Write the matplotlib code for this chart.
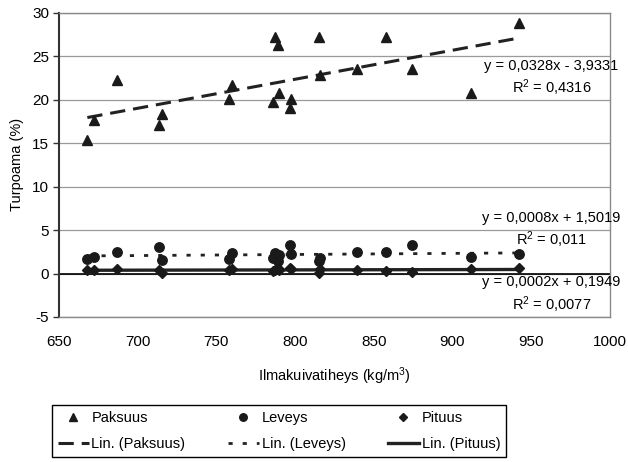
import matplotlib.pyplot as plt
import numpy as np

plt.rcParams['font.family'] = ['Liberation Sans', 'DejaVu Sans']
plt.rcParams['mathtext.fontset'] = 'custom'
plt.rcParams['mathtext.rm'] = 'Liberation Sans'
plt.rcParams['mathtext.it'] = 'Liberation Sans'
plt.rcParams['axes.unicode_minus'] = False

# Ilmakuivatiheys (kg/m3) per sample
tiheys = [668, 672, 687, 713.5, 715.5, 758, 760, 786, 787, 789, 789.5,
          797, 797.5, 815, 816, 839.5, 857.5, 874, 912, 942]
paksuus = [15.4, 17.7, 22.3, 17.1, 18.4, 20.1, 21.7, 19.8, 27.2, 26.3, 20.8,
           19.0, 20.1, 27.2, 22.8, 23.5, 27.2, 23.6, 20.8, 28.8]
leveys = [1.7, 1.9, 2.45, 3.0, 1.6, 1.7, 2.4, 1.8, 2.4, 1.4, 2.1,
          3.3, 2.2, 1.4, 1.8, 2.5, 2.5, 3.3, 1.9, 2.2]
pituus = [0.4, 0.4, 0.5, 0.45, 0.1, 0.4, 0.5, 0.25, 0.45, 0.6, 0.35,
          0.65, 0.5, 0.1, 0.5, 0.45, 0.3, 0.15, 0.55, 0.65]

eq_paksuus = ['y = 0,0328x - 3,9331', 'R$^2$ = 0,4316']
eq_leveys = ['y = 0,0008x + 1,5019', 'R$^2$ = 0,011']
eq_pituus = ['y = 0,0002x + 0,1949', 'R$^2$ = 0,0077']

x = np.array(tiheys)
xs = np.array([x.min(), x.max()])

fig = plt.figure(figsize=(6.28, 4.62), dpi=100)
ax = fig.add_axes([0.094, 0.314, 0.877, 0.658])

# trend lines
fits = {}
for name, vals in [('p', paksuus), ('l', leveys), ('pi', pituus)]:
    k, b = np.polyfit(x, vals, 1)
    fits[name] = k * xs + b

ax.axhline(0, color='black', lw=1.2, zorder=1)
lp, = ax.plot(xs, fits['p'], color='#222222', lw=2.2, dashes=(5, 2.6), zorder=3)
ll, = ax.plot(xs, fits['l'], color='#222222', lw=2, dashes=(1.5, 3.6), zorder=3)
lpi, = ax.plot(xs, fits['pi'], color='#222222', lw=2.4, zorder=3)

mp, = ax.plot(x, paksuus, '^', color='#1a1a1a', ms=7, ls='none', zorder=4)
ml, = ax.plot(x, leveys, 'o', color='#1a1a1a', ms=6.8, ls='none', zorder=4)
mpi, = ax.plot(x, pituus, 'D', color='#1a1a1a', ms=4.8, ls='none', zorder=4)

ax.set_xlim(650, 1000)
ax.set_ylim(-5, 30)
ax.set_xticks(range(650, 1001, 50))
ax.set_yticks(range(-5, 31, 5))
ax.grid(axis='y', color='#9a9a9a', lw=0.9)
ax.set_axisbelow(True)

for s in ['top', 'right', 'bottom']:
    ax.spines[s].set_color('#8a8a8a')
    ax.spines[s].set_linestyle((0, (1, 1)))
    ax.spines[s].set_linewidth(1)
ax.spines['left'].set_color('#333333')
ax.spines['left'].set_linewidth(1.5)

ax.tick_params(axis='y', direction='out', length=4, width=1, color='#333333',
               labelsize=11, pad=3)
ax.tick_params(axis='x', length=0, labelsize=11, pad=13)

ax.set_ylabel('Turpoama (%)', fontsize=10.5, labelpad=6)
ax.set_xlabel('Ilmakuivatiheys (kg/m$^3$)', fontsize=10.5, labelpad=12)

# equation labels
kw = dict(ha='center', va='center', fontsize=10.5, clip_on=False)
ax.text(963, 23.85, eq_paksuus[0], **kw)
ax.text(963, 21.35, eq_paksuus[1], **kw)
ax.text(963, 6.4, eq_leveys[0], **kw)
ax.text(963, 3.85, eq_leveys[1], **kw)
ax.text(963, -1.0, eq_pituus[0], **kw)
ax.text(963, -3.55, eq_pituus[1], **kw)

handles = [mp, lp, ml, ll, mpi, lpi]
labels = ['Paksuus', 'Lin. (Paksuus)', 'Leveys', 'Lin. (Leveys)',
          'Pituus', 'Lin. (Pituus)']
leg = fig.legend(handles, labels, ncol=3, loc='center',
                 bbox_to_anchor=(0.083, 0.005, 0.723, 0.123), mode='expand',
                 fontsize=10.5, frameon=True, fancybox=False, edgecolor='black',
                 framealpha=1, handlelength=2.1, handletextpad=0.2,
                 numpoints=1, borderaxespad=0, labelspacing=0.85,
                 markerscale=0.8)
leg.get_frame().set_linewidth(1)

plt.savefig('out.png', dpi=100)
plt.close()
